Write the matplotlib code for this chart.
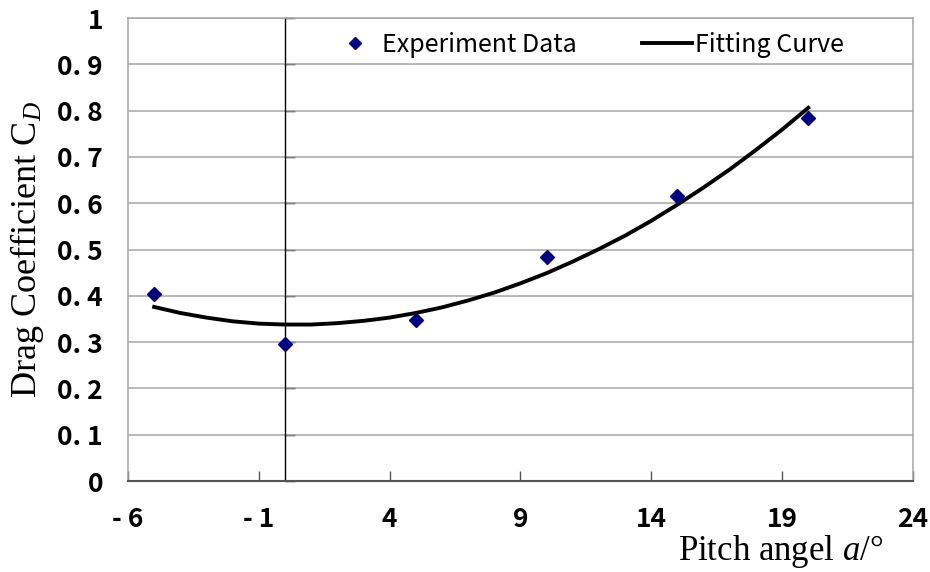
import matplotlib
matplotlib.use("Agg")
from matplotlib import pyplot as plt
from matplotlib.ticker import FixedLocator, FixedFormatter

# experiment points
exp_x = [-5, 0, 5, 10, 15, 20]
exp_cd = [0.404, 0.296, 0.348, 0.483, 0.616, 0.784]

fit_x = [-5, -4, -3, -2, -1, 0, 1, 2, 3, 4, 5, 6, 7, 8, 9, 10,
         11, 12, 13, 14, 15, 16, 17, 18, 19, 20]
fit_cd = [0.376, 0.363, 0.353, 0.345, 0.340, 0.338, 0.338, 0.341, 0.346, 0.353,
          0.363, 0.375, 0.390, 0.407, 0.427, 0.449, 0.474, 0.501, 0.530, 0.562,
          0.597, 0.634, 0.673, 0.715, 0.759, 0.806]

xticks = [-6, -1, 4, 9, 14, 19, 24]
xtick_labels = ['- 6', '- 1', '4', '9', '14', '19', '24']
yticks = [0, 0.1, 0.2, 0.3, 0.4, 0.5, 0.6, 0.7, 0.8, 0.9, 1.0]
ytick_labels = ['0', '0. 1', '0. 2', '0. 3', '0. 4', '0. 5', '0. 6', '0. 7', '0. 8', '0. 9', '1']

plt.rcParams['mathtext.fontset'] = 'custom'
plt.rcParams['mathtext.rm'] = 'Liberation Serif'
plt.rcParams['mathtext.it'] = 'Liberation Serif:italic'

sans = ['Noto Sans CJK SC', 'DejaVu Sans']
serif = ['Liberation Serif', 'DejaVu Serif']

fig = plt.figure(figsize=(9.3, 5.72), dpi=100)
ax = fig.add_axes([0.1376, 0.159, 0.844, 0.8095])

ax.set_xlim(-6, 24)
ax.set_ylim(0, 1)

for y in yticks[1:]:
    ax.axhline(y, color='#a6a6a6', lw=1.1, zorder=1)

ax.plot(fit_x, fit_cd, color='black', lw=2.8, label='Fitting Curve', zorder=3)
ax.plot(exp_x, exp_cd, linestyle='none', marker='D', ms=7.5, color='#000080',
        label='Experiment Data', zorder=4)

# y axis crossing at 0
ax.axvline(0, color='black', lw=1.0, zorder=2)
sec = ax.secondary_yaxis(0.2)
sec.spines['left'].set_visible(False)
sec.yaxis.set_major_locator(FixedLocator(yticks))
sec.tick_params(axis='y', direction='in', length=7, width=1, color='black', labelleft=False)

for s in ['left', 'top', 'right']:
    ax.spines[s].set_color('#a6a6a6')
    ax.spines[s].set_linewidth(1.1)
ax.spines['bottom'].set_color('#555555')
ax.spines['bottom'].set_linewidth(1.5)

ax.xaxis.set_major_locator(FixedLocator(xticks))
ax.xaxis.set_major_formatter(FixedFormatter(xtick_labels))
ax.yaxis.set_major_locator(FixedLocator(yticks))
ax.yaxis.set_major_formatter(FixedFormatter(ytick_labels))
ax.tick_params(axis='x', direction='in', length=7, width=1, color='#555555', pad=18)
ax.tick_params(axis='y', length=0, pad=18)
for lab in ax.get_xticklabels() + ax.get_yticklabels():
    lab.set_fontfamily(sans)
    lab.set_fontweight('bold')
    lab.set_fontsize(19)

ax.set_ylabel('Drag Coefficient C$_{\\mathit{D}}$', family=serif, fontsize=26, labelpad=8)
ax.set_xlabel('Pitch angel $\\mathit{a}$/°', family=serif, fontsize=25, loc='right', labelpad=0)
ax.xaxis.label.set_x(0.962)

handles, labels = ax.get_legend_handles_labels()
leg = ax.legend(handles[::-1], labels[::-1], loc='center left', bbox_to_anchor=(0.2573, 0.9417),
                ncol=2, frameon=False, borderpad=0, borderaxespad=0, markerscale=0.75,
                columnspacing=2.6, handlelength=2.0, handletextpad=0.1,
                prop=dict(family=sans, size=18))

fig.savefig('out.png', dpi=100)
